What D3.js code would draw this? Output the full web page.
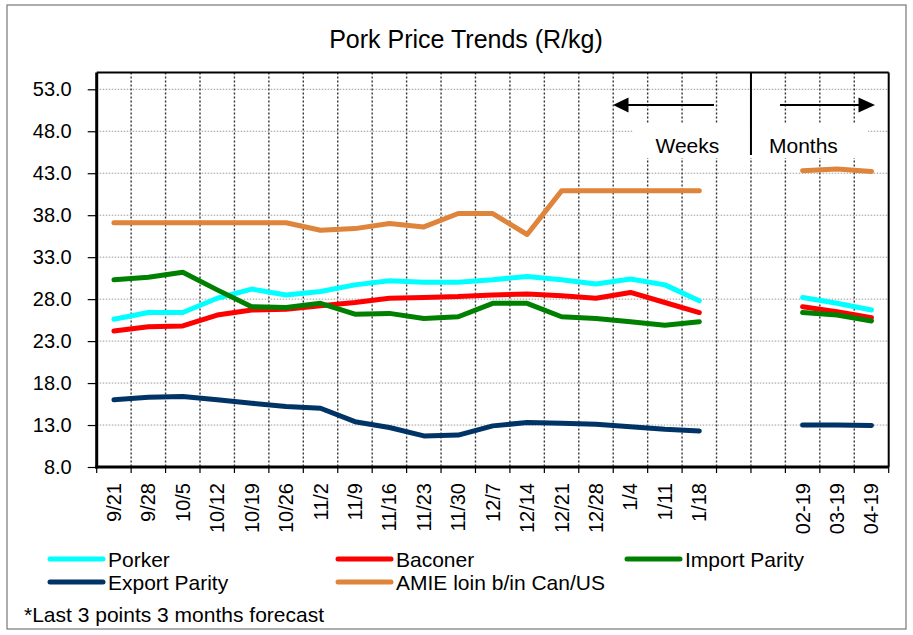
<!DOCTYPE html>
<html>
<head>
<meta charset="utf-8">
<script src="https://cdn.jsdelivr.net/npm/d3@7"></script>
<style>
  html, body { margin: 0; padding: 0; background: #fff; }
  svg { display: block; font-family: "Liberation Sans", Arial, sans-serif; }
</style>
</head>
<body>
<svg id="chart" width="913" height="635"></svg>
<script>
// ---- Data ----
const weekLabels = ["9/21","9/28","10/5","10/12","10/19","10/26","11/2","11/9","11/16","11/23","11/30","12/7","12/14","12/21","12/28","1/4","1/11","1/18"];
const gapSlots = ["gap1","gap2"];
const monthLabels = ["02-19","03-19","04-19"];
const yTicks = [8,13,18,23,28,33,38,43,48,53];

const porkerW  = [25.6,26.4,26.4,28.1,29.2,28.5,28.9,29.7,30.2,30.0,30.0,30.3,30.7,30.3,29.8,30.4,29.7,27.8];
const porkerM  = [28.2,27.5,26.7];
const baconerW = [24.2,24.7,24.8,26.1,26.7,26.8,27.2,27.6,28.1,28.2,28.3,28.5,28.6,28.4,28.1,28.8,27.6,26.4];
const baconerM = [27.1,26.5,25.8];
const importW  = [30.3,30.6,31.2,29.1,27.1,27.0,27.5,26.2,26.3,25.7,25.9,27.5,27.5,25.9,25.7,25.3,24.9,25.3];
const importM  = [26.4,26.1,25.4];
const exportW  = [16.0,16.3,16.4,16.0,15.6,15.2,15.0,13.4,12.7,11.7,11.8,12.9,13.3,13.2,13.1,12.8,12.5,12.3];
const exportM  = [13.0,13.0,12.95];
const amieW    = [37.1,37.1,37.1,37.1,37.1,37.1,36.2,36.4,37.0,36.6,38.2,38.2,35.7,40.9,40.9,40.9,40.9,40.9];
const amieM    = [43.3,43.5,43.2];

const seriesNames  = ["Porker","Baconer","Import Parity","Export Parity","AMIE loin b/in Can/US"];
const seriesColors = ["#00FFFF","#FF0000","#008000","#003366","#DF843B"];
const seriesWeeks  = [porkerW, baconerW, importW, exportW, amieW];
const seriesMonths = [porkerM, baconerM, importM, exportM, amieM];

// ---- Layout ----
const svg = d3.select("#chart");
const fontFam = '"Liberation Sans", Arial, sans-serif';
const plot = { left: 96.7, right: 888.7, top: 72.5, bottom: 467 };

const categories = weekLabels.concat(gapSlots, monthLabels);
const x = d3.scaleBand().domain(categories).range([plot.left, plot.right]).padding(0);
const y = d3.scaleLinear().domain([8, 55]).range([plot.bottom, plot.top]);

// outer frame
svg.append("rect").attr("x", 7).attr("y", 5).attr("width", 899).attr("height", 624)
  .attr("fill", "#fff").attr("stroke", "#777").attr("stroke-width", 1.2);

// title
svg.append("text").attr("x", 466).attr("y", 48).attr("text-anchor", "middle")
  .attr("font-size", 25).attr("fill", "#000").text("Pork Price Trends (R/kg)");

// horizontal gridlines
svg.append("g").selectAll("line").data(yTicks.filter(t => t > 8)).join("line")
  .attr("x1", plot.left).attr("x2", plot.right)
  .attr("y1", d => y(d)).attr("y2", d => y(d))
  .attr("stroke", "#9a9a9a").attr("stroke-width", 1).attr("stroke-dasharray", "1.5,1.5");

// vertical gridlines at category boundaries
const boundaries = categories.slice(1).map(c => x(c));
svg.append("g").selectAll("line").data(boundaries).join("line")
  .attr("x1", d => d).attr("x2", d => d)
  .attr("y1", plot.top).attr("y2", plot.bottom)
  .attr("stroke", "#333").attr("stroke-width", 1.4).attr("stroke-dasharray", "2,2");

// Weeks / Months text box
const divX = x("gap2");
svg.append("rect").attr("x", 633).attr("y", 123).attr("width", 235).attr("height", 35).attr("fill", "#fff");
svg.append("line").attr("x1", divX).attr("x2", divX).attr("y1", plot.top).attr("y2", 155)
  .attr("stroke", "#000").attr("stroke-width", 2);
svg.append("text").attr("x", 655.5).attr("y", 153).attr("font-size", 21).text("Weeks");
svg.append("text").attr("x", 769).attr("y", 153).attr("font-size", 21).text("Months");

// arrows
const arrY = 105;
svg.append("line").attr("x1", 626).attr("x2", 714).attr("y1", arrY).attr("y2", arrY)
  .attr("stroke", "#000").attr("stroke-width", 2);
svg.append("path").attr("d", `M613,${arrY} L628.5,${arrY-7.5} L628.5,${arrY+7.5} Z`).attr("fill", "#000");
svg.append("line").attr("x1", 780).attr("x2", 860).attr("y1", arrY).attr("y2", arrY)
  .attr("stroke", "#000").attr("stroke-width", 2);
svg.append("path").attr("d", `M875,${arrY} L858.5,${arrY-7.5} L858.5,${arrY+7.5} Z`).attr("fill", "#000");

// plot border top/right
svg.append("line").attr("x1", plot.left).attr("x2", plot.right).attr("y1", plot.top).attr("y2", plot.top)
  .attr("stroke", "#000").attr("stroke-width", 2);
svg.append("line").attr("x1", plot.right).attr("x2", plot.right).attr("y1", plot.top).attr("y2", plot.bottom)
  .attr("stroke", "#000").attr("stroke-width", 2);

// y axis
const yAxis = d3.axisLeft(y).tickValues(yTicks).tickFormat(d3.format(".1f")).tickSize(9).tickPadding(16);
const gy = svg.append("g").attr("transform", `translate(${plot.left},0)`).call(yAxis);
gy.select(".domain").attr("stroke", "#000").attr("stroke-width", 3).attr("d", `M0,${plot.top}V${plot.bottom + 1.5}`);
gy.selectAll(".tick line").attr("stroke", "#000").attr("stroke-width", 1.2);
gy.selectAll(".tick text").attr("font-size", 20).attr("font-family", fontFam).attr("fill", "#000");

// x axis
const xAxis = d3.axisBottom(x).tickSize(0).tickFormat(d => gapSlots.includes(d) ? "" : d);
const gx = svg.append("g").attr("transform", `translate(0,${plot.bottom})`).call(xAxis);
gx.select(".domain").attr("stroke", "#000").attr("stroke-width", 3).attr("d", `M${plot.left - 1.5},0H${plot.right}`);
gx.selectAll(".tick text").attr("font-size", 20).attr("font-family", fontFam).attr("fill", "#000")
  .attr("text-anchor", "end").attr("dy", "0.35em")
  .attr("transform", "translate(0,16) rotate(-90)").attr("x", 0).attr("y", 0);
// boundary tick marks below axis
svg.append("g").selectAll("line").data(categories.map(c => x(c)).concat([plot.right])).join("line")
  .attr("x1", d => d).attr("x2", d => d).attr("y1", plot.bottom).attr("y2", plot.bottom + 6)
  .attr("stroke", "#000").attr("stroke-width", 1.2);

// series lines
const xc = d => x(d) + x.bandwidth() / 2;
const line = d3.line().x(d => xc(d.cat)).y(d => y(d.v));
seriesNames.forEach((name, i) => {
  const segs = [
    weekLabels.map((c, j) => ({ cat: c, v: seriesWeeks[i][j] })),
    monthLabels.map((c, j) => ({ cat: c, v: seriesMonths[i][j] }))
  ];
  svg.append("g").selectAll("path").data(segs).join("path")
    .attr("d", line).attr("fill", "none").attr("stroke", seriesColors[i])
    .attr("stroke-width", 5).attr("stroke-linejoin", "round").attr("stroke-linecap", "round");
});

// legend
const legendPos = [
  { lx: 50, ly: 559 }, { lx: 338, ly: 559 }, { lx: 627, ly: 559 },
  { lx: 50, ly: 582 }, { lx: 338, ly: 582 }
];
const lg = svg.append("g");
seriesNames.forEach((name, i) => {
  const p = legendPos[i];
  lg.append("line").attr("x1", p.lx).attr("x2", p.lx + 53).attr("y1", p.ly).attr("y2", p.ly)
    .attr("stroke", seriesColors[i]).attr("stroke-width", 5).attr("stroke-linecap", "round");
  lg.append("text").attr("x", p.lx + 58).attr("y", p.ly + 7.5).attr("font-size", 21).attr("fill", "#000").text(name);
});
svg.append("text").attr("x", 24).attr("y", 621.5).attr("font-size", 21).attr("fill", "#000")
  .text("*Last 3 points 3 months forecast");
</script>
</body>
</html>
